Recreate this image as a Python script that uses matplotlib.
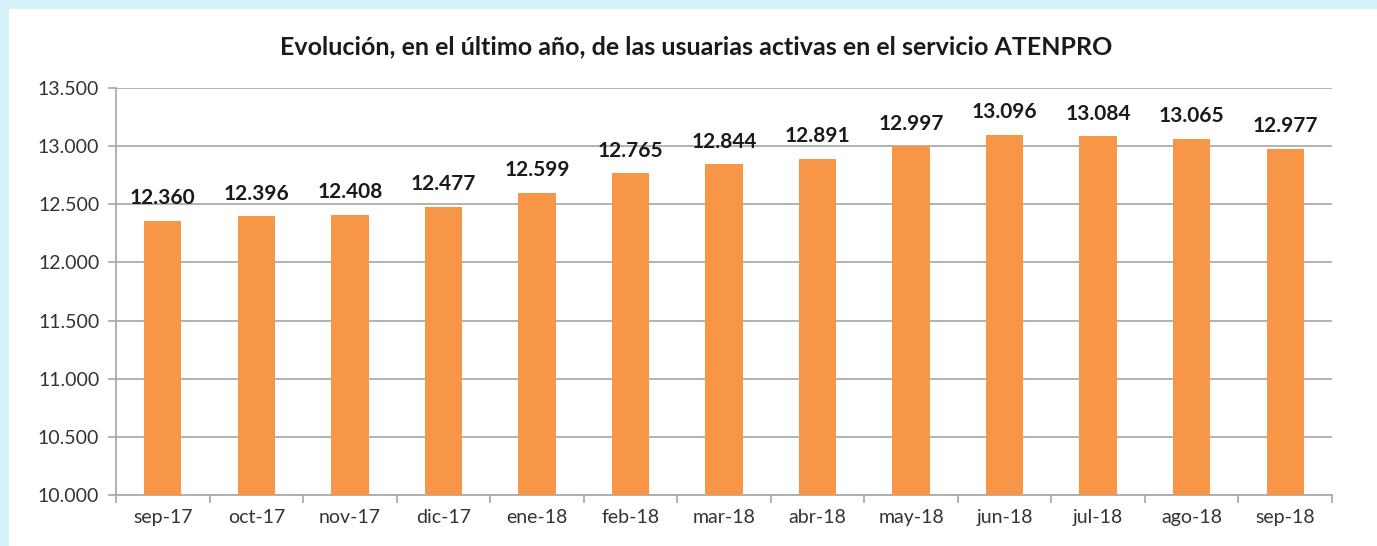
import matplotlib.pyplot as plt
from matplotlib.patches import Rectangle
from matplotlib.ticker import FuncFormatter

meses = ['sep-17', 'oct-17', 'nov-17', 'dic-17', 'ene-18', 'feb-18', 'mar-18',
         'abr-18', 'may-18', 'jun-18', 'jul-18', 'ago-18', 'sep-18']
usuarias = [12360, 12396, 12408, 12477, 12599, 12765, 12844,
            12891, 12997, 13096, 13084, 13065, 12977]
yticks = [10000, 10500, 11000, 11500, 12000, 12500, 13000, 13500]


def miles(v, pos=None):
    return f'{int(v):,}'.replace(',', '.')


plt.rcParams['font.family'] = ['Lato', 'DejaVu Sans']

fig = plt.figure(figsize=(13.77, 5.46), dpi=100)
fig.patch.set_facecolor('white')

# light blue dotted frame at the top and left
fig.add_artist(Rectangle((0, 1 - 9 / 546), 1, 9 / 546, transform=fig.transFigure,
                         facecolor='#D6F2FB', edgecolor='none', zorder=0))
fig.add_artist(Rectangle((0, 0), 9 / 1377, 1, transform=fig.transFigure,
                         facecolor='#D6F2FB', edgecolor='none', zorder=0))

ax = fig.add_axes([116 / 1377, 1 - 495 / 546, (1332 - 116) / 1377, (495 - 88) / 546])

x = list(range(len(meses)))
bars = ax.bar(x, usuarias, width=0.4, color='#F79646', zorder=3)

for xi, v in zip(x, usuarias):
    ax.annotate(miles(v), (xi, v), xytext=(0, 9), textcoords='offset points',
                ha='center', va='bottom', fontsize=15, fontweight='bold',
                color='#1a1a1a')

ax.set_ylim(10000, 13500)
ax.set_xlim(-0.5, len(meses) - 0.5)
ax.set_yticks(yticks)
ax.yaxis.set_major_formatter(FuncFormatter(miles))
ax.yaxis.grid(True, color='#a6a6a6', linewidth=1.2, zorder=0)

ax.set_xticks(x)
ax.set_xticklabels(meses)
ax.set_xticks([i - 0.5 for i in range(len(meses) + 1)], minor=True)
ax.tick_params(axis='x', which='major', length=0, pad=10, labelsize=14, labelcolor='#333333')
ax.tick_params(axis='x', which='minor', length=6, color='#a6a6a6', width=1.2)
ax.tick_params(axis='y', length=6, color='#a6a6a6', width=1.2, labelsize=14,
               labelcolor='#333333', pad=6)

for s in ['top', 'right']:
    ax.spines[s].set_visible(False)
for s in ['left', 'bottom']:
    ax.spines[s].set_color('#a6a6a6')
    ax.spines[s].set_linewidth(1.2)

fig.text(0.5 + 8 / 1377, 1 - 47 / 546,
         'Evolución, en el último año, de las usuarias activas en el servicio ATENPRO',
         ha='center', va='center', fontsize=18, fontweight='bold', color='#1a1a1a')

fig.savefig('out.png', dpi=100, facecolor=fig.get_facecolor())
